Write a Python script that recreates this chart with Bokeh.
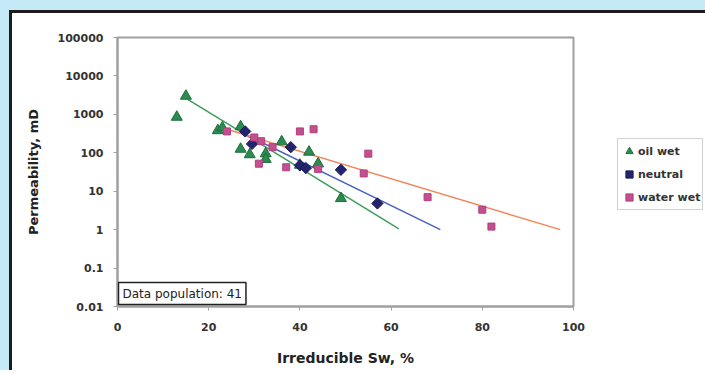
import math
from bokeh.plotting import figure
from bokeh.models import Label, Legend, LegendItem, FixedTicker
from bokeh.embed import file_html
from bokeh.resources import INLINE

# ---- data ----
oil_x = [13, 15, 22, 23, 27, 27, 29, 32.5, 32.5, 36, 40, 42, 44, 49]
oil_y = [850, 3000, 380, 450, 480, 125, 90, 95, 68, 195, 48, 105, 52, 6.5]

neutral_x = [28, 29.5, 38, 40, 41.3, 49, 57]
neutral_y = [360, 170, 140, 47, 40, 36, 4.8]

water_x = [24, 30, 31.5, 31, 34, 37, 40, 43, 44, 54, 55, 68, 80, 82]
water_y = [360, 250, 200, 52, 140, 42, 360, 410, 38, 29, 95, 7, 3.3, 1.2]

# trend lines (end points)
oil_fit_x = [15.3, 61.7]
oil_fit_y = [2500, 1.05]
neutral_fit_x = [27.6, 70.8]
neutral_fit_y = [320, 1.0]
water_fit_x = [23.6, 97.1]
water_fit_y = [420, 1.0]

x_ticks = [0, 20, 40, 60, 80, 100]
y_ticks = [0.01, 0.1, 1, 10, 100, 1000, 10000, 100000]
y_tick_labels = ["0.01", "0.1", "1", "10", "100", "1000", "10000", "100000"]

series_names = ["oil wet", "neutral", "water wet"]
population_text = "Data population: 41"

FONT = "DejaVu Sans"
BLUE = "#c6e9f8"
DARK = "#1c1c1c"

p = figure(frame_width=456, frame_height=269, y_axis_type="log",
           x_range=(0, 100), y_range=(0.01, 100000),
           output_backend="svg", toolbar_location=None,
           min_border_left=105, min_border_right=126,
           min_border_top=24, min_border_bottom=64,
           background_fill_color="white", border_fill_color="white",
           outline_line_color="#a0a0a0", outline_line_width=2)
p.styles = {
    "margin-left": "9px",
    "margin-top": "10px",
    "border-top": f"3px solid {DARK}",
    "border-left": f"3px solid {DARK}",
    "box-shadow": (f"-30px 0 0 0 {BLUE}, 0 -30px 0 0 {BLUE}, -30px -30px 0 0 {BLUE}, "
                   "30px 0 0 0 white, 0 30px 0 0 white, 30px 30px 0 0 white"),
}

p.grid.visible = False

# axes
for ax in (p.xaxis[0], p.yaxis[0]):
    ax.axis_line_color = "#a0a0a0"
    ax.axis_line_width = 2
    ax.major_tick_line_color = "#a0a0a0"
    ax.major_tick_out = 4
    ax.major_tick_in = 0
    ax.minor_tick_line_color = None
    ax.major_label_text_font = FONT
    ax.major_label_text_font_style = "bold"
    ax.major_label_text_font_size = "11px"
    ax.major_label_text_color = "#333333"
    ax.axis_label_text_font = FONT
    ax.axis_label_text_font_style = "bold"
    ax.axis_label_text_color = "#222222"

p.xaxis.ticker = FixedTicker(ticks=x_ticks)
p.xaxis.axis_label = "Irreducible Sw, %"
p.xaxis.axis_label_text_font_size = "14px"
p.xaxis.major_label_standoff = 12
p.xaxis.axis_label_standoff = 16

p.yaxis.ticker = FixedTicker(ticks=y_ticks)
p.yaxis.major_label_overrides = {t: l for t, l in zip(y_ticks, y_tick_labels)}
p.yaxis.axis_label = "Permeability, mD"
p.yaxis.axis_label_text_font_size = "13px"
p.yaxis.major_label_standoff = 10
p.yaxis.axis_label_standoff = 14

# trend lines
p.line(oil_fit_x, oil_fit_y, line_color="#3c9e5a", line_width=1.5)
p.line(neutral_fit_x, neutral_fit_y, line_color="#4a62c4", line_width=1.5)
p.line(water_fit_x, water_fit_y, line_color="#f2845a", line_width=1.5)

# points
r_oil = p.scatter(oil_x, oil_y, marker="triangle", size=11,
                  fill_color="#2b8c52", line_color="#1d6b3b")
r_neu = p.scatter(neutral_x, neutral_y, marker="square", angle=math.pi / 4, size=8,
                  fill_color="#24246e", line_color="#1a1a55")
r_wat = p.scatter(water_x, water_y, marker="square", size=7,
                  fill_color="#c44f8e", line_color="#b03f7e")

legend = Legend(items=[LegendItem(label=series_names[0], renderers=[r_oil]),
                       LegendItem(label=series_names[1], renderers=[r_neu]),
                       LegendItem(label=series_names[2], renderers=[r_wat])],
                location=(44, 96))
legend.glyph_width = 18
legend.glyph_height = 20
legend.label_standoff = 0
legend.padding = 2
legend.spacing = 3
legend.margin = 0
legend.border_line_color = "#a8a8a8"
legend.border_line_width = 1
legend.label_text_font = FONT
legend.label_text_font_style = "bold"
legend.label_text_font_size = "11px"
legend.label_text_color = "#333333"
p.add_layout(legend, "right")

pop = Label(x=0, y=0.01, x_units="data", y_units="data", text=population_text,
            text_font=FONT, text_font_size="12px", text_color="#222222",
            background_fill_color="white", border_line_color="#222222",
            border_line_width=1.5, padding=4, y_offset=2, x_offset=1)
p.add_layout(pop)

open("out.html", "w").write(file_html(p, INLINE))
